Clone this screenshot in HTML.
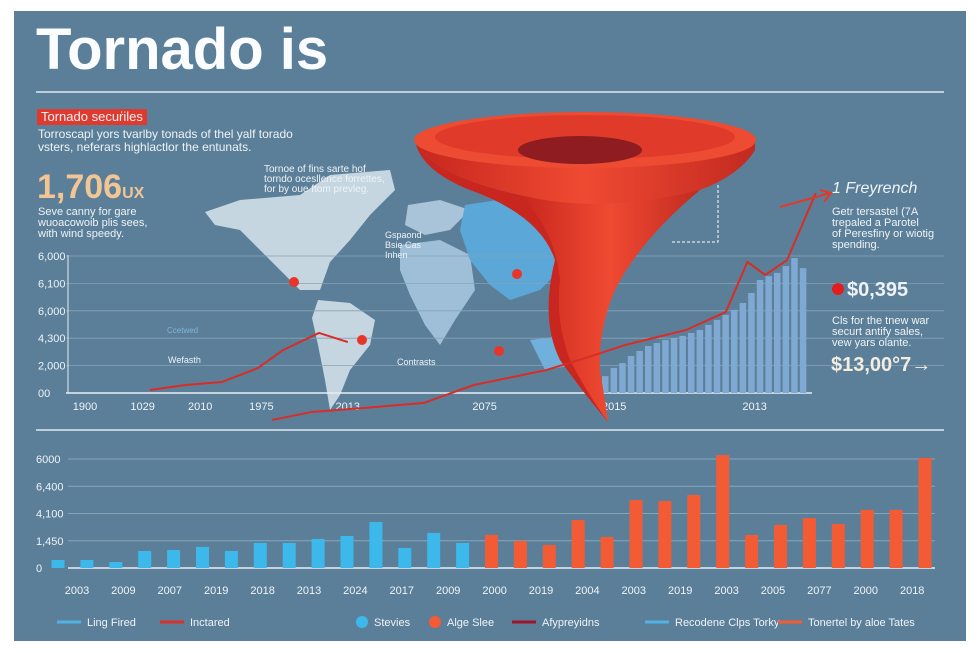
<!DOCTYPE html>
<html><head><meta charset="utf-8">
<style>
body{margin:0;background:#fff;width:980px;height:653px;overflow:hidden;font-family:"Liberation Sans",sans-serif}
#panel{position:absolute;left:14px;top:11px;width:952px;height:630px;background:#5b7f99}
.t{position:absolute;color:#eef3f6;white-space:nowrap}
svg{position:absolute;left:0;top:0}
</style></head><body>
<div id="panel"></div>
<svg width="980" height="653">
<defs>
<linearGradient id="tg" x1="0" x2="1" y1="0" y2="0"><stop offset="0" stop-color="#c8261e"/><stop offset="0.5" stop-color="#ef4a32"/><stop offset="1" stop-color="#c22a20"/></linearGradient>
</defs>
<line x1="36" y1="92" x2="944" y2="92" stroke="#dfe8ee" stroke-width="1.5"/>
<line x1="36" y1="430" x2="944" y2="430" stroke="#dfe8ee" stroke-width="1.5"/>
<g id="map" fill="#c6d6e1">
<path d="M205,212 L240,200 L300,195 L330,175 L390,170 L395,190 L370,215 L350,240 L330,262 L320,290 L300,290 L285,275 L265,255 L240,230 L215,225Z"/>
<path d="M318,300 L350,303 L375,320 L370,345 L350,370 L340,395 L330,410 L325,380 L318,345 L312,318Z"/>
<path d="M408,205 L440,200 L470,210 L450,230 L425,235 L405,225Z" fill="#a9c4d8"/>
<path d="M400,245 L440,240 L470,255 L475,290 L455,320 L440,345 L425,325 L410,295 L400,270Z" fill="#9fbfd8"/>
<path d="M465,205 L530,195 L580,200 L575,240 L560,270 L540,290 L510,300 L490,285 L470,260 L460,230Z" fill="#5aa7d8"/>
<path d="M530,340 L570,335 L575,365 L545,370Z" fill="#6fb0dc"/>
</g>
<g id="topgrid"></g>
<g id="topbars"></g>
<g id="tornado">
<path d="M415,140 Q430,175 520,195 Q560,230 565,280 Q560,330 580,370 Q600,400 608,422 Q585,395 560,360 Q540,320 555,260 Q540,215 470,190 Q420,170 415,140Z" fill="#c8261e"/>
<path d="M415,140 Q430,175 520,195 Q560,210 600,210 Q640,205 700,190 Q740,175 755,150 L755,140 Q585,175 415,140Z" fill="url(#tg)"/>
<path d="M520,195 Q600,215 700,190 Q640,240 615,290 Q598,330 600,370 Q605,400 608,422 Q585,390 570,360 Q555,320 560,280 Q555,230 520,195Z" fill="url(#tg)"/>
<ellipse cx="585" cy="140" rx="171" ry="28" fill="#ee4b33"/>
<ellipse cx="585" cy="137" rx="150" ry="22" fill="#e03a2a"/>
<ellipse cx="580" cy="150" rx="62" ry="14" fill="#8e1c20"/>
</g>
<g id="toplines"></g>
<g id="botchart"></g>
<g id="legend"></g>
<circle cx="294" cy="282" r="5" fill="#e8352a"/>
<circle cx="517" cy="274" r="5" fill="#e8352a"/>
<circle cx="362" cy="340" r="5" fill="#e8352a"/>
<circle cx="499" cy="351" r="5" fill="#e8352a"/>
<circle cx="838" cy="289" r="6" fill="#e01e1e"/>
<path d="M780,207 L830,193 M820,190 L831,193 L824,202" stroke="#e03a2a" stroke-width="2" fill="none"/>
<polyline points="672,242 718,242 718,185" stroke="#fff" stroke-dasharray="3,2" fill="none"/>
</svg>
<div class="t" style="left:36px;top:16px;font-size:58px;font-weight:bold;color:#fafcfd">Tornado is</div>
<div class="t" style="left:37px;top:109px;font-size:13px;background:#e03a2f;padding:0 4px;line-height:16px">Tornado secuṙiles</div>
<div class="t" style="left:38px;top:128px;font-size:12px;line-height:13px">Torroscapl yors tvarlby tonads of thel yalf torado<br>vsters, neferars highlactlor the entunats.</div>
<div class="t" style="left:37px;top:168px;font-size:34px;font-weight:bold;color:#f2c595">1,706<span style="font-size:16px">UX</span></div>
<div class="t" style="left:38px;top:207px;font-size:11px;line-height:11px">Seve canny for gare<br>wuoacowoib plis sees,<br>with wind speedy.</div>
<div class="t" style="left:264px;top:165px;font-size:10px;line-height:10px">Tornoe of fins sarte hof<br>torndo ocesllence forrettes,<br>for by oue ftom prevleg.</div>
<div class="t" style="left:385px;top:230px;font-size:9px;line-height:10px">Gspaond<br>Bsie Cas<br>Inhen</div>
<div class="t" style="left:168px;top:355px;font-size:9px">Wefasth</div>
<div class="t" style="left:167px;top:326px;font-size:8px;color:#7fb6d8">Ccetwed</div>
<div class="t" style="left:397px;top:357px;font-size:9px">Contrasts</div>
<div class="t" style="left:832px;top:180px;font-size:16px;font-style:italic">1 Freyrench</div>
<div class="t" style="left:832px;top:207px;font-size:11px;line-height:11px">Getr tersastel (7A<br>trepaled a Parotel<br>of Peresfiny or wiotig<br>spending.</div>
<div class="t" style="left:847px;top:279px;font-size:20px;font-weight:bold">$0,395</div>
<div class="t" style="left:832px;top:316px;font-size:11px;line-height:11px">Cls for the tnew war<br>securt antify sales,<br>vew yars olante.</div>
<div class="t" style="left:831px;top:354px;font-size:20px;font-weight:bold;color:#f5ece0">$13,00°7→</div>
<script>
const NS='http://www.w3.org/2000/svg';
function mk(p,tag,a){const e=document.createElementNS(NS,tag);for(const k in a)e.setAttribute(k,a[k]);p.appendChild(e);return e;}
const topYTicks=[0,1200,2400,3600,4800,6000];
const topYLabels=['00','2,000','4,300','6,000','6,100','6,000'];
const topXLabels=['1900','1029','2010','1975','2013','2075','2015','2013'];
const topXLabelPos=[0,8,16,24.5,36.5,55.5,73.5,93];
const topBarValues=[740,1100,1310,1620,1840,2060,2190,2320,2410,2500,2630,2760,2980,3200,3420,3640,3940,4380,4950,5120,5260,5560,5910,5470];
const lineAPos=[9,14,19,24,27.5,32.5,36.5];
const lineAValues=[130,350,480,1090,1880,2630,2230];
const lineBPos=[26,31.5,38.5,47,54,64,69.5,75,83.5,89,92,94.5,97.5,101.5];
const lineBValues=[-1180,-830,-660,-440,350,1000,1530,2100,2760,3550,5740,5170,5820,8760];
const tx=v=>85+v*7.2, ty=v=>393-v/6000*137;
const tg=document.getElementById('topgrid');
topYTicks.forEach((v,i)=>{
 const l=mk(tg,'line',{x1:66,x2:i?944:812,y1:ty(v),y2:ty(v),stroke:i?'#86a3b7':'#e6eef3','stroke-width':i?0.8:1.5});
 
 
 const t=mk(tg,'text',{x:38,y:ty(v)+4,fill:'#eef3f6','font-size':11});t.textContent=topYLabels[i];
 
 
});
mk(tg,'line',{x1:68,x2:68,y1:255,y2:393,stroke:'#e6eef3'});
topXLabels.forEach((s,i)=>{const t=mk(tg,'text',{x:tx(topXLabelPos[i]),y:410,fill:'#eef3f6','font-size':11,'text-anchor':'middle'});t.textContent=s;
 
 });
const tb=document.getElementById('topbars');
topBarValues.forEach((v,i)=>{const x=602+i*8.6;const r=mk(tb,'rect',{x:x,y:ty(v),width:6.5,height:393-ty(v),fill:'#7fa9d2'});
 
 });
const tl=document.getElementById('toplines');
function line(pos,vals,name){const p=mk(tl,'polyline',{points:pos.map((x,i)=>tx(x)+','+ty(vals[i])).join(' '),fill:'none',stroke:'#d92c26','stroke-width':2});
 
 }
line(lineAPos,lineAValues,'trend-line-a');line(lineBPos,lineBValues,'trend-line-b');
const botValues=[440,440,330,940,990,1160,940,1380,1380,1600,1760,2530,1100,1930,1380,1820,1490,1270,2640,1710,3740,3690,4020,6220,1820,2370,2750,2420,3200,3200,6060];
const botSeries=['b','b','b','b','b','b','b','b','b','b','b','b','b','b','b','r','r','r','r','r','r','r','r','r','r','r','r','r','r','r','r'];
const botYTicks=[0,1500,3000,4500,6000];
const botYLabels=['0','1,450','4,100','6,400','6000'];
const botXLabels=['2003','2009','2007','2019','2018','2013','2024','2017','2009','2000','2019','2004','2003','2019','2003','2005','2077','2000','2018'];
const bx=i=>58+i*28.9, by=v=>568-v/6000*109;
const bc=document.getElementById('botchart');
botYTicks.forEach((v,i)=>{const l=mk(bc,'line',{x1:68,x2:935,y1:by(v),y2:by(v),stroke:i?'#88a5b8':'#e6eef3','stroke-width':i?1:1.5});
 
 
 const t=mk(bc,'text',{x:36,y:by(v)+4,fill:'#eef3f6','font-size':11});t.textContent=botYLabels[i];
 
 });
botValues.forEach((v,i)=>{const r=mk(bc,'rect',{x:bx(i)-6.5,y:by(v),width:13,height:568-by(v),fill:botSeries[i]=='b'?'#3db8ea':'#f35b35'});
 
 });
botXLabels.forEach((s,i)=>{const t=mk(bc,'text',{x:77+i*46.4,y:594,fill:'#eef3f6','font-size':11,'text-anchor':'middle'});t.textContent=s;
 
 });
const legNames=['Ling Fired','Inctared','Stevies','Alge Slee','Afypreyidns','Recodene Clps Torky','Tonertel by aloe Tates'];
const legX=[57,160,356,429,512,645,778];
const legKind=['l','l','c','c','l','l','l'];
const legCol=['#52b2e6','#d9302a','#3db8ea','#f35b35','#a0142a','#52b2e6','#f35b35'];
const lg=document.getElementById('legend');
legNames.forEach((s,i)=>{const x=legX[i];
 const m=legKind[i]=='c'?mk(lg,'circle',{cx:x+6,cy:622,r:6,fill:legCol[i]}):mk(lg,'line',{x1:x,x2:x+24,y1:622,y2:622,stroke:legCol[i],'stroke-width':3});
 
 
 const t=mk(lg,'text',{x:x+(legKind[i]=='c'?18:30),y:626,fill:'#eef3f6','font-size':11});t.textContent=s;
 
 });
</script>
</body></html>
